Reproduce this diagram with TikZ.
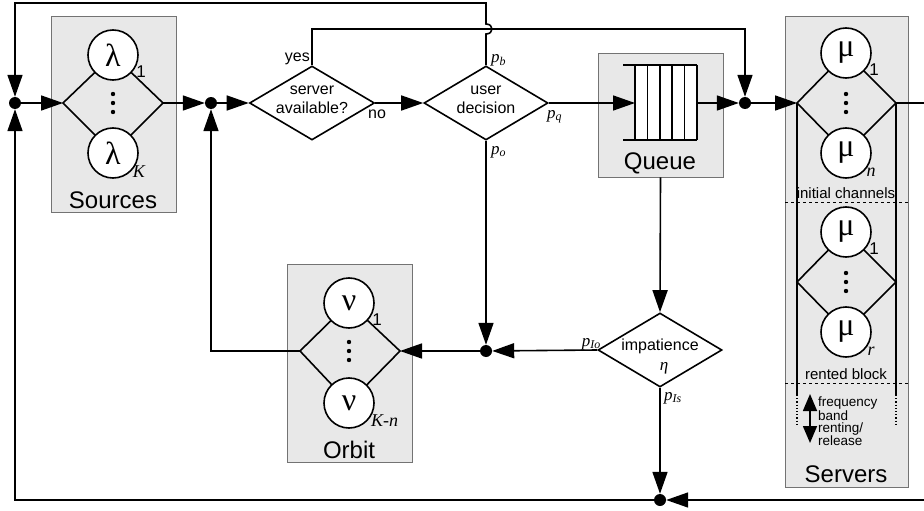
\documentclass[tikz,border=0pt]{standalone}
\usepackage{fontspec}
\setmainfont{Liberation Sans}
\newfontfamily\tms{Liberation Serif}
\usepackage{tikz}
\usetikzlibrary{shapes.geometric, arrows.meta}
\tikzstyle{wire} = [line width=1.6pt]
\tikzstyle{arrow} = [wire, -{Triangle[length=22pt,width=15pt]}]
\tikzstyle{junction} = [circle, fill=black, inner sep=0pt, minimum size=12pt]
\tikzstyle{server} = [circle, draw=black, line width=1.6pt, fill=white, minimum size=50pt, inner sep=0pt, font=\tms\fontsize{32}{32}\selectfont]
\tikzstyle{block} = [rectangle, draw=black!55, fill=black!9, line width=0.9pt, inner sep=0pt]
\tikzstyle{decision} = [diamond, draw=black, line width=1.6pt, fill=white, inner sep=0pt, minimum width=124pt, minimum height=74pt]
\tikzstyle{dtext} = [align=center, inner sep=0pt, font=\fontsize{16}{19}\selectfont]
\tikzstyle{idx} = [inner sep=0pt, font=\fontsize{17}{17}\selectfont]
\tikzstyle{idxit} = [inner sep=0pt, font=\tms\itshape\fontsize{18}{18}\selectfont]
\tikzstyle{prob} = [inner sep=0pt, font=\tms\itshape\fontsize{17}{17}\selectfont]
\tikzstyle{blocklabel} = [inner sep=0pt, font=\fontsize{24}{24}\selectfont]
\tikzstyle{small} = [inner sep=0pt, font=\fontsize{15}{15}\selectfont]

\begin{document}
\begin{tikzpicture}[x=1pt, y=-1pt]
\useasboundingbox (0,0) rectangle (924,511);

% grey blocks
\node[block, minimum width=125pt, minimum height=196pt] (srcbox) at (113.5,114) {};
\node[block, minimum width=125pt, minimum height=124pt] (qbox) at (660.5,115) {};
\node[block, minimum width=125pt, minimum height=198pt] (orbbox) at (349.5,363) {};
\node[block, minimum width=123pt, minimum height=471pt] (srvbox) at (846.5,251.5) {};
\node[blocklabel] at (113,200) {Sources};
\node[blocklabel] at (660,163) {Queue};
\node[blocklabel] at (349,450) {Orbit};
\node[blocklabel] at (846,474) {Servers};

% sources
\coordinate (srcin) at (63,103);
\coordinate (srcout) at (163,103);
\draw[wire] (srcin) -- (113,55) -- (srcout) -- (113,153) -- cycle;
\node[server] (lam1) at (113,55) {λ};
\node[server] (lamK) at (113,153) {λ};
\node[idx] at ([shift={(28,17)}]lam1) {1};
\node[idxit] at ([shift={(26,19)}]lamK) {K};
\foreach \d in {-9,0,9} \fill (113,103+\d) circle (2.2pt);

% orbit
\coordinate (orbin) at (300,351);
\coordinate (orbout) at (400,351);
\draw[wire] (orbin) -- (349,303) -- (orbout) -- (349,403) -- cycle;
\node[server] (nu1) at (349,303) {ν};
\node[server] (nuK) at (349,403) {ν};
\node[idx] at ([shift={(28,17)}]nu1) {1};
\node[idxit, anchor=west] at ([shift={(22,18)}]nuK) {K-n};
\foreach \d in {-9,0,9} \fill (349,351+\d) circle (2.2pt);

% servers
\coordinate (srvin) at (797,103);
\coordinate (srvout) at (896,103);
\coordinate (rin) at (797,282);
\coordinate (rout) at (896,282);
\draw[wire] (srvin) -- (846,53) -- (srvout) -- (846,153) -- cycle;
\draw[wire] (rin) -- (846,232) -- (rout) -- (846,332) -- cycle;
\draw[wire] (srvin) -- (797,395);
\draw[wire] (srvout) -- (896,395);
\draw[line width=1.2pt, dotted] (797,395) -- (797,426);
\draw[line width=1.2pt, dotted] (896,395) -- (896,426);
\node[server] (mu1) at (846,53) {μ};
\node[server] (mun) at (846,153) {μ};
\node[server] (mur1) at (846,232) {μ};
\node[server] (murr) at (846,332) {μ};
\node[idx] at ([shift={(28,17)}]mu1) {1};
\node[idxit] at ([shift={(25,19)}]mun) {n};
\node[idx] at ([shift={(28,17)}]mur1) {1};
\node[idxit] at ([shift={(25,19)}]murr) {r};
\foreach \d in {-9,0,9} \fill (846,103+\d) circle (2.2pt);
\foreach \d in {-9,0,9} \fill (846,282+\d) circle (2.2pt);
\node[small] at (846,193) {initial channels};
\node[small] at (846,374) {rented block};
\draw[line width=0.8pt, dashed] (785,202) -- (908,202);
\draw[line width=0.8pt, dashed] (785,383) -- (908,383);
\coordinate (bandtop) at (810,394);
\coordinate (bandbot) at (810,443);
\draw[wire, {Triangle[length=17pt,width=14pt]}-{Triangle[length=17pt,width=14pt]}] (bandtop) -- (bandbot);
\node[anchor=north west, align=left, inner sep=0pt, font=\fontsize{13.5}{11.8}\selectfont] (bandtxt) at (818,397) {frequency\\band\\renting/\\release};

% queue
\fill[white] (635,65) rectangle (697,140);
\draw[wire] (623,65) -- (697,65);
\draw[wire] (623,140) -- (697,140);
\foreach \x in {635,647.4,659.8,672.2,684.6,697} \draw[wire] (\x,65) -- (\x,140);
\coordinate (qin) at (635,103);
\coordinate (qout) at (697,103);

% decisions
\node[decision, minimum width=125pt] (avail) at (312,103) {};
\node[dtext] at (312,100) {server\\available?};
\node[decision] (usr) at (486,103) {};
\node[dtext] at (486,100) {user\\decision};
\node[decision] (imp) at (660,350) {};
\node[dtext] at (660,346) {impatience};
\node[prob] at (664,368) {η};

% junctions
\node[junction] (lftdot) at (15,103) {};
\node[junction] (jdot) at (211,103) {};
\node[junction] (qdot) at (745,103) {};
\node[junction] (odot) at (486,351) {};
\node[junction] (botdot) at (660,500) {};
\coordinate (exit) at (926,500);

% connectors
\draw[arrow] (lftdot) -- (srcin);
\draw[arrow] (srcout) -- (jdot);
\draw[arrow] (jdot) -- (avail.west);
\draw[arrow] (avail.east) -- (usr.west);
\draw[arrow] (usr.east) -- (qin);
\draw[arrow] (qout) -- (qdot);
\draw[arrow] (qdot) -- (srvin);
\draw[wire] (srvout) -- (926,103) -- (exit);
\draw[arrow] (exit) -- (botdot);
\draw[arrow] (botdot) -| (lftdot);
\draw[arrow] (usr.north) -- (486,34) .. controls (494,34) and (494,24) .. (486,24) -- (486,3) -| (lftdot);
\draw[arrow] (avail.north) -- (312,29) -| (qdot);
\draw[arrow] (usr.south) -- (odot);
\draw[arrow] (imp.west) -- (odot);
\draw[arrow] (odot) -- (orbout);
\draw[arrow] (orbin) -| (jdot);
\draw[arrow] (qbox.south) -- (imp.north);
\draw[arrow] (imp.south) -- (botdot);

% labels
\node[dtext, anchor=base east] at (310,62) {yes};
\node[dtext, anchor=base west] at (368,118) {no};
\node[prob, anchor=base west] at (491,63) {p\textsubscript{b}};
\node[prob, anchor=base west] at (547,118) {p\textsubscript{q}};
\node[prob, anchor=base west] at (491,154) {p\textsubscript{o}};
\node[prob, anchor=base east] at (601,346) {p\textsubscript{Io}};
\node[prob, anchor=base west] at (664,400) {p\textsubscript{Is}};
\end{tikzpicture}
\end{document}
